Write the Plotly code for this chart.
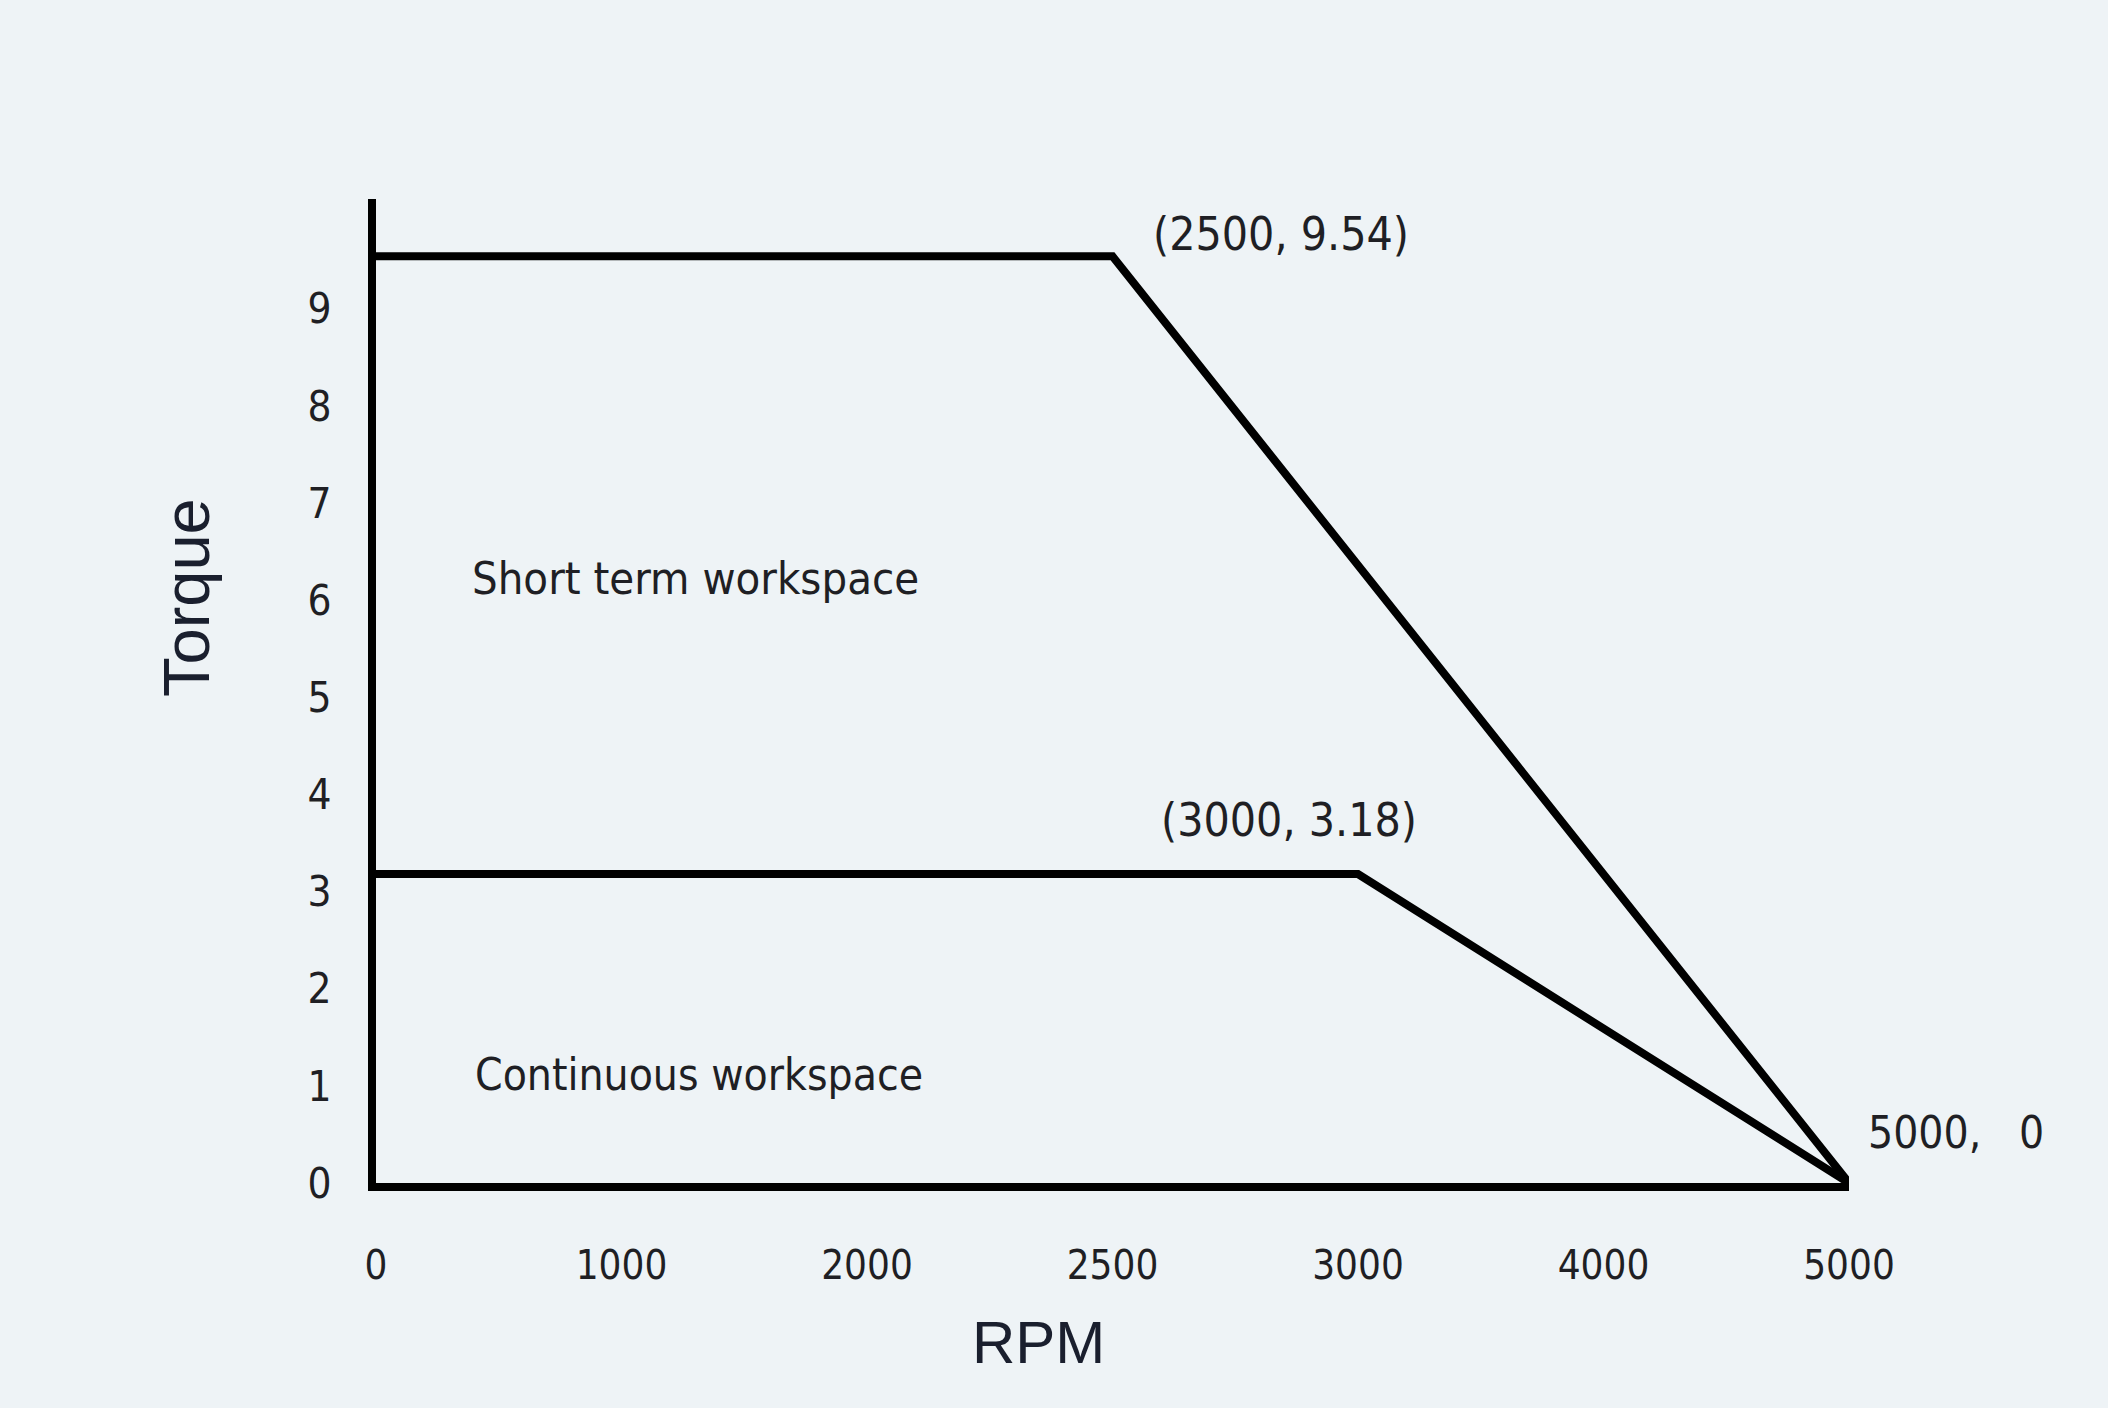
import plotly.graph_objects as go

# ---- data ----
rpm_ticks = ["0", "1000", "2000", "2500", "3000", "4000", "5000"]
torque_ticks = [0, 1, 2, 3, 4, 5, 6, 7, 8, 9]

short_rpm = ["0", "2500", "5000"]
short_torque = [9.54, 9.54, 0]

cont_rpm = ["0", "3000", "5000"]
cont_torque = [3.18, 3.18, 0]

BG = "#eef3f6"
NARROW = "Liberation Sans Narrow, Arial Narrow, DejaVu Sans Condensed, sans-serif"
SANS = "Liberation Sans, Arial, Helvetica, sans-serif"
TXT = "#1f1f24"


def cat(v):
    return rpm_ticks.index(v)


fig = go.Figure()
fig.add_trace(go.Scatter(x=short_rpm, y=short_torque, mode="lines",
                         line=dict(color="black", width=8), showlegend=False,
                         hoverinfo="skip"))
fig.add_trace(go.Scatter(x=cont_rpm, y=cont_torque, mode="lines",
                         line=dict(color="black", width=8), showlegend=False,
                         hoverinfo="skip"))

fig.update_layout(
    width=2108, height=1408,
    paper_bgcolor=BG, plot_bgcolor=BG,
    margin=dict(l=376, r=259, t=199, b=225),
    showlegend=False,
    xaxis=dict(
        type="category", categoryorder="array", categoryarray=rpm_ticks,
        range=[0, 6], showgrid=False, zeroline=False,
        showline=True, linecolor="black", linewidth=8,
        ticks="", ticklabelstandoff=40,
        tickfont=dict(family=NARROW, size=40, color=TXT),
    ),
    yaxis=dict(
        range=[0, 10.13], tickvals=torque_ticks, showgrid=False, zeroline=False,
        showline=True, linecolor="black", linewidth=8,
        ticks="", ticklabelstandoff=28,
        tickfont=dict(family=NARROW, size=42, color=TXT),
    ),
)

anns = [
    dict(x=cat("2500"), y=9.54, xref="x", yref="y", text="(2500, 9.54)",
         xanchor="left", yanchor="middle", xshift=38, yshift=22,
         font=dict(family=NARROW, size=46, color=TXT)),
    dict(x=cat("3000"), y=3.18, xref="x", yref="y", text="(3000, 3.18)",
         xanchor="left", yanchor="middle", xshift=-199, yshift=54,
         font=dict(family=NARROW, size=46, color=TXT)),
    dict(x=cat("5000"), y=0, xref="x", yref="y", text="5000,\u00a0\u00a0 0",
         xanchor="left", yanchor="middle", xshift=17, yshift=51,
         font=dict(family=NARROW, size=44, color=TXT)),
    dict(x=(470 - 376) / 1473, y=(1183 - 578) / 984, xref="paper", yref="paper",
         text="Short term workspace", xanchor="left", yanchor="middle",
         font=dict(family=NARROW, size=45, color=TXT)),
    dict(x=(473 - 376) / 1473, y=(1183 - 1074) / 984, xref="paper", yref="paper",
         text="Continuous workspace", xanchor="left", yanchor="middle",
         font=dict(family=NARROW, size=44, color=TXT)),
    dict(x=(1038 - 376) / 1473, y=(1183 - 1342) / 984, xref="paper", yref="paper",
         text="RPM", xanchor="center", yanchor="middle",
         font=dict(family=SANS, size=60, color="#1a1f2e")),
    dict(x=(186 - 376) / 1473, y=(1183 - 598) / 984, xref="paper", yref="paper",
         text="Torque", xanchor="center", yanchor="middle", textangle=-90,
         font=dict(family=SANS, size=65, color="#1a1f2e")),
]
for a in anns:
    a["showarrow"] = False
    fig.add_annotation(**a)

fig.write_html("out.html")
